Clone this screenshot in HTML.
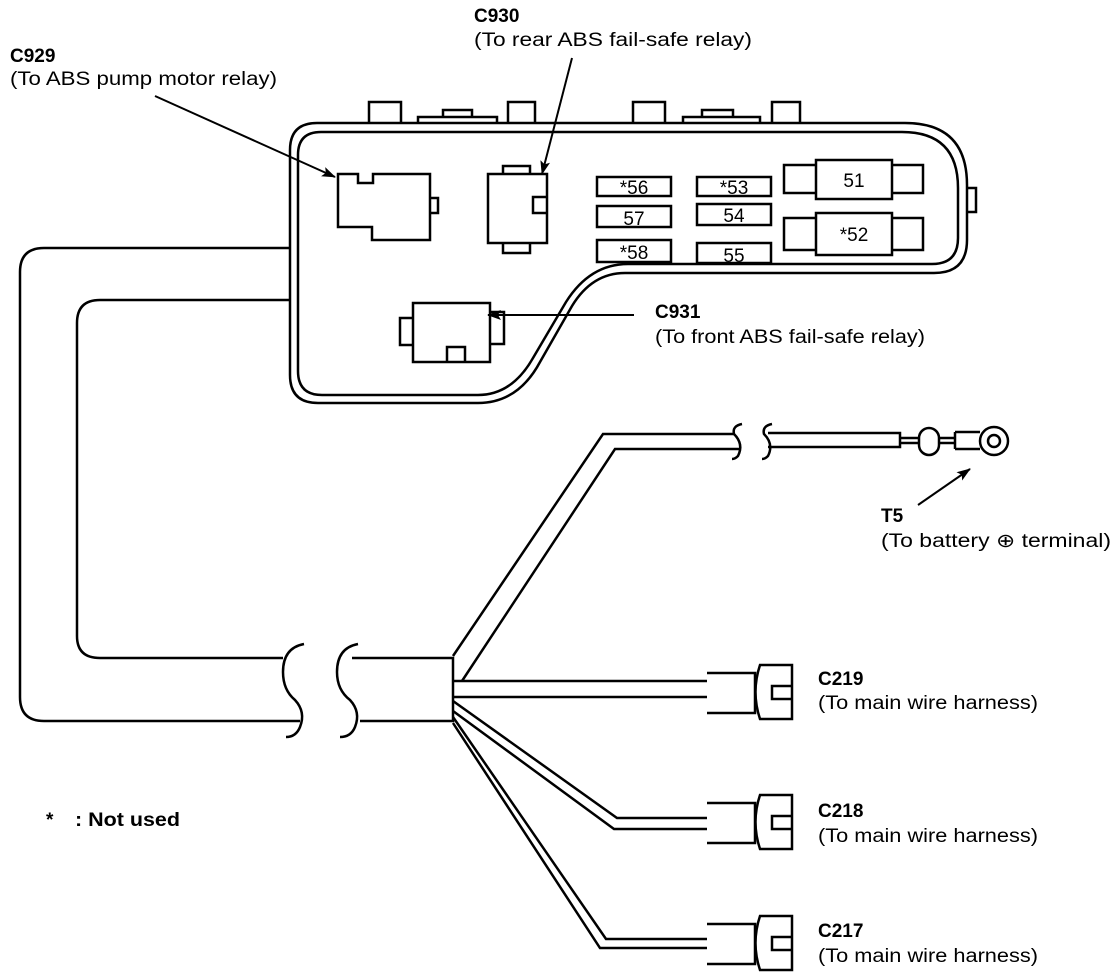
<!DOCTYPE html>
<html><head><meta charset="utf-8"><style>
html,body{margin:0;padding:0;background:#fff;}
svg{display:block;}
text{font-family:"Liberation Sans",Arial,sans-serif;fill:#000;}
.b{font-weight:bold;}
</style></head><body>
<svg width="1120" height="978" viewBox="0 0 1120 978" xmlns="http://www.w3.org/2000/svg">
<defs>
<marker id="ah" markerWidth="14" markerHeight="10" refX="13" refY="5" orient="auto" markerUnits="userSpaceOnUse"><path d="M0,0 L14,5 L0,10 L3,5 Z" fill="#000"/></marker>
<g id="conn">
<path d="M0,0 H48 V40 H0" fill="#fff" stroke="#000" stroke-width="2.5"/>
<path d="M53,-8 H85 V46 H53 Q44,19 53,-8 Z" fill="#fff" stroke="#000" stroke-width="2.5"/>
<path d="M85,13 H65 V26 H85" fill="none" stroke="#000" stroke-width="2.5"/>
</g>
</defs>
<g fill="none" stroke="#000" stroke-width="2.5">
<path d="M290,150 Q290,123 317,123 L905,123 Q967,123 967,185 L967,240 Q967,273 934,273 L625,273 Q592,273 572,306 L540,362 Q518,403 478,403 L318,403 Q290,403 290,375 Z"/>
<path d="M298,155 Q298,132 321,132 L902,132 Q958,132 958,188 L958,238 Q958,264 932,264 L628,264 Q590,264 566,302 L533,358 Q512,395 478,395 L322,395 Q298,395 298,371 Z"/>
<path d="M369,123 V102 H401 V123"/>
<path d="M418,123 V117 H497 V123 M443,117 V110 H472 V117"/>
<path d="M508,123 V102 H535 V123"/>
<path d="M633,123 V102 H665 V123"/>
<path d="M683,123 V117 H760 V123 M702,117 V110 H733 V117"/>
<path d="M772,123 V102 H800 V123"/>
<path d="M967,188 H976 V212 H967"/>
<path d="M338,174 H358 V183 H373 V174 H430 V240 H372 V227 H338 Z"/>
<path d="M430,198 H438 V213 H430"/>
<rect x="488" y="174" width="59" height="69"/>
<path d="M503,174 V166 H530 V174 M503,243 V253 H530 V243 M547,197 H533 V213 H547"/>
<rect x="597" y="177" width="74" height="19"/>
<rect x="597" y="206" width="74" height="21"/>
<rect x="597" y="240" width="74" height="22"/>
<rect x="697" y="177" width="74" height="19"/>
<rect x="697" y="204" width="74" height="21"/>
<rect x="697" y="243" width="74" height="20"/>
<rect x="784" y="165" width="139" height="28"/>
<rect x="816" y="160" width="76" height="39" fill="#fff"/>
<rect x="784" y="218" width="139" height="32"/>
<rect x="816" y="213" width="76" height="42" fill="#fff"/>
<rect x="413" y="303" width="77" height="59"/>
<path d="M413,318 H400 V345 H413 M490,312 H504 V344 H490 M447,362 V347 H465 V362"/>
<path d="M290,248 H44 Q20,248 20,272 V697 Q20,721 44,721 H300"/>
<path d="M290,300 H100 Q77,300 77,323 V636 Q77,658 100,658 H283"/>
<path d="M304,644 Q283,648 283,672 Q283,690 295,700 Q306,712 300,727 Q296,737 286,737"/>
<path d="M358,644 Q337,648 337,672 Q337,690 350,700 Q361,712 355,727 Q351,737 340,737"/>
<path d="M352,658 H453 V721 H360"/>
<path d="M453,656 L603,434 H735"/>
<path d="M462,681 L615,449 H740"/>
<path d="M742,424 Q732,426 734,434 Q744,444 738,456 Q735,459 732,459"/>
<path d="M772,424 Q762,426 764,434 Q774,444 768,456 Q765,459 762,459"/>
<path d="M768,433 H900 V447 H768"/>
<path d="M900,438 H918 M900,443 H918 M938,438 H955 M938,443 H955"/>
<rect x="919" y="428" width="20" height="27" rx="10"/>
<path d="M955,432 H980 M955,449 H980 M955,432 V449"/>
<circle cx="994" cy="441" r="14" fill="#fff"/>
<circle cx="994" cy="441" r="6"/>
<path d="M453,681 H707 M453,697 H707"/>
<path d="M453,701 L617,818 H707 M453,711 L614,829 H707"/>
<path d="M453,717 L606,939 H707 M453,723 L600,948 H707"/>
</g>
<use href="#conn" x="707" y="673"/>
<use href="#conn" x="707" y="803"/>
<use href="#conn" x="707" y="924"/>
<g stroke="#000" stroke-width="2">
<line x1="155" y1="96" x2="335" y2="177" marker-end="url(#ah)"/>
<line x1="572" y1="58" x2="542" y2="174" marker-end="url(#ah)"/>
<line x1="634" y1="315" x2="488" y2="315" marker-end="url(#ah)"/>
<line x1="918" y1="505" x2="970" y2="469" marker-end="url(#ah)"/>
</g>
<g font-size="19" text-anchor="middle">
<text x="634" y="194">*56</text><text x="634" y="225">57</text><text x="634" y="259">*58</text>
<text x="734" y="194">*53</text><text x="734" y="222">54</text><text x="734" y="262">55</text>
<text x="854" y="187">51</text><text x="854" y="241">*52</text>
</g>
<g font-size="19">
<text class="b" x="10" y="62">C929</text>
<text x="10" y="85" textLength="267" lengthAdjust="spacingAndGlyphs">(To ABS pump motor relay)</text>
<text class="b" x="474" y="22">C930</text>
<text x="474" y="46" textLength="278" lengthAdjust="spacingAndGlyphs">(To rear ABS fail-safe relay)</text>
<text class="b" x="655" y="318">C931</text>
<text x="655" y="343" textLength="270" lengthAdjust="spacingAndGlyphs">(To front ABS fail-safe relay)</text>
<text class="b" x="881" y="522">T5</text>
<text x="881" y="547" textLength="230" lengthAdjust="spacingAndGlyphs">(To battery ⊕ terminal)</text>
<text class="b" x="818" y="685">C219</text>
<text x="818" y="709" textLength="220" lengthAdjust="spacingAndGlyphs">(To main wire harness)</text>
<text class="b" x="818" y="817">C218</text>
<text x="818" y="842" textLength="220" lengthAdjust="spacingAndGlyphs">(To main wire harness)</text>
<text class="b" x="818" y="937">C217</text>
<text x="818" y="962" textLength="220" lengthAdjust="spacingAndGlyphs">(To main wire harness)</text>
<text class="b" x="46" y="826">*</text>
<text class="b" x="75" y="826" textLength="105" lengthAdjust="spacingAndGlyphs">: Not used</text>
</g>
</svg>
</body></html>
